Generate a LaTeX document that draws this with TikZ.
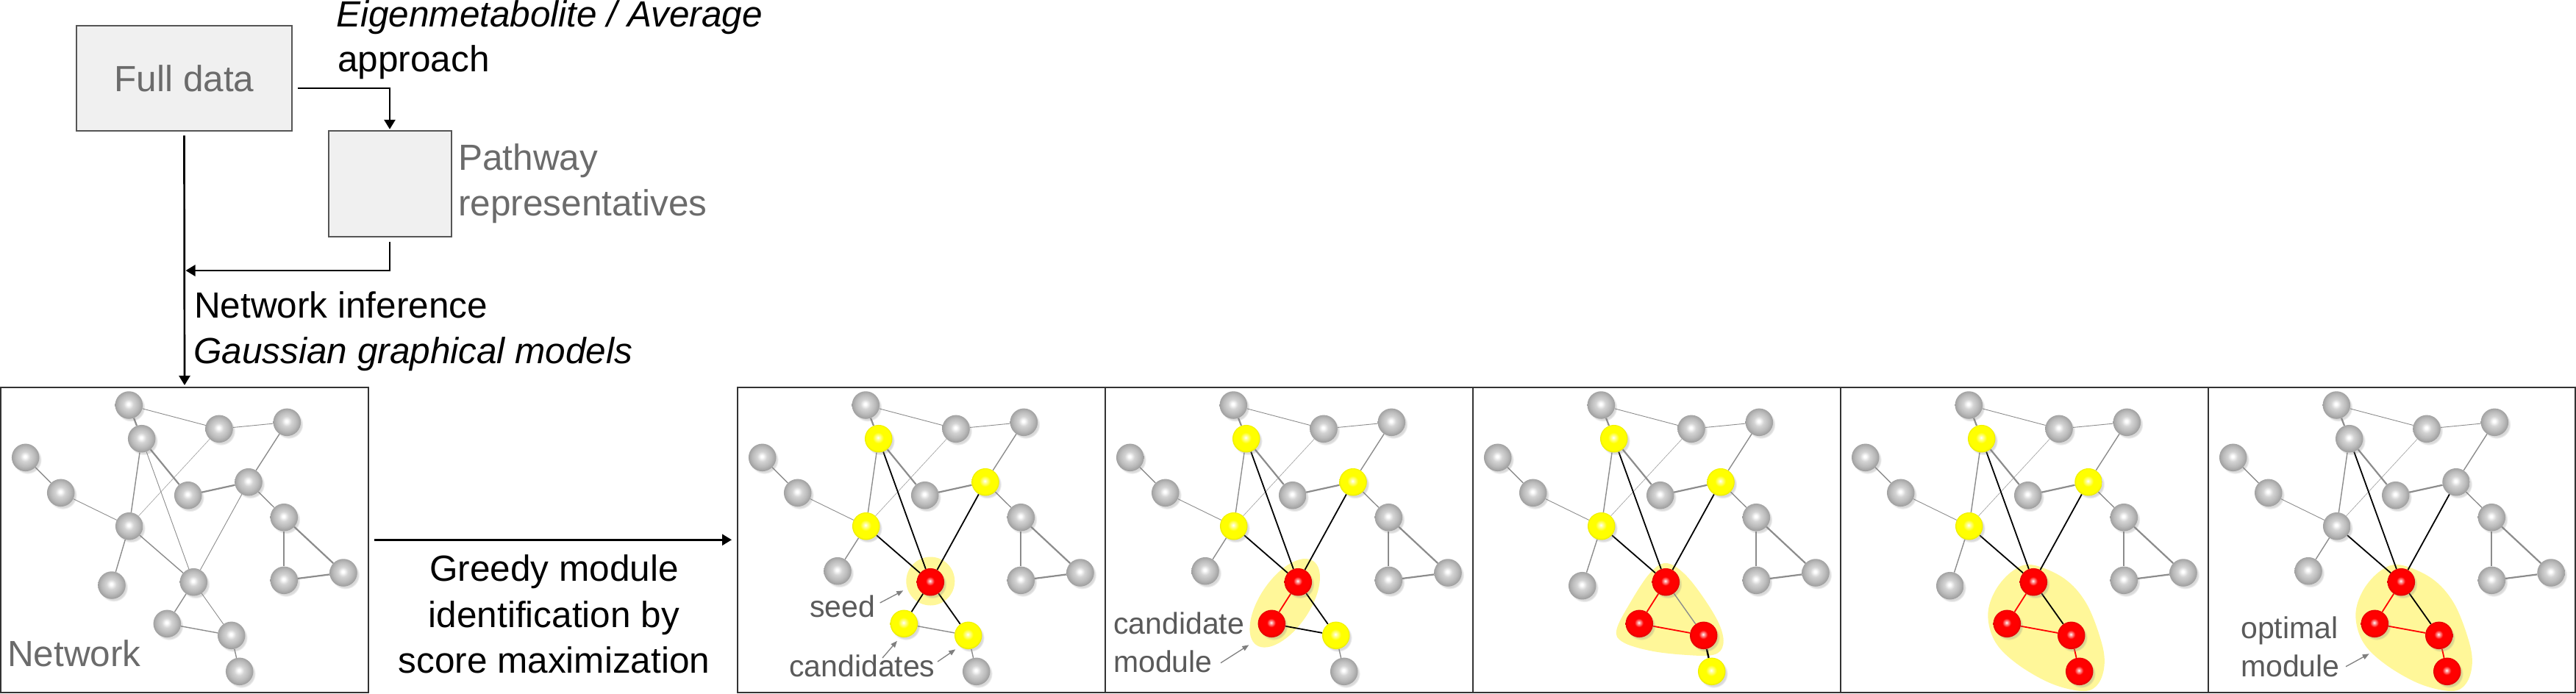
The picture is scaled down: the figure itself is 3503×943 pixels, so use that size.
\documentclass[tikz,border=0pt]{standalone}
\usepackage{fontspec}
\setmainfont{Liberation Sans}
\usetikzlibrary{arrows.meta,shadows,calc}
\pgfdeclarelayer{blob}
\pgfdeclarelayer{edges}
\pgfsetlayers{blob,edges,main}

\definecolor{boxfill}{HTML}{F0F0F0}
\definecolor{boxline}{HTML}{555555}
\definecolor{txtgrey}{HTML}{6B6B6B}
\definecolor{lblgrey}{HTML}{5A5A5A}
\definecolor{edgegrey}{HTML}{8C8C8C}
\definecolor{hlyellow}{HTML}{FFF799}
\definecolor{arrgrey}{HTML}{7F7F7F}
\definecolor{framecol}{HTML}{333333}

\pgfdeclareradialshading{greyball}{\pgfqpoint{-1bp}{2bp}}{%
 color(0bp)=(white); color(2bp)=(white); color(9bp)=(black!17);
 color(18bp)=(black!27); color(24bp)=(black!36); color(27bp)=(black!42);
 color(50bp)=(black!42)}
\pgfdeclareradialshading{redball}{\pgfqpoint{-1bp}{2bp}}{%
 color(0bp)=(white); color(2bp)=(white!70!red); color(8bp)=(red);
 color(21bp)=(red); color(25bp)=(red!88!black); color(50bp)=(red!88!black)}
\pgfdeclareradialshading{yellowball}{\pgfqpoint{-1bp}{2bp}}{%
 color(0bp)=(white); color(3bp)=(white!65!yellow); color(10bp)=(yellow);
 color(22bp)=(yellow); color(25bp)=(yellow!92!black); color(50bp)=(yellow!92!black)}

\newcommand{\SetNodes}[7]{\tikzset{sB/.style={#1},sH/.style={#2},sI/.style={#3},sL/.style={#4},sO/.style={#5},sP/.style={#6},sQ/.style={#7}}}
\newcommand{\SetEdges}[7]{\tikzset{eBL/.style={#1},eHL/.style={#2},eIL/.style={#3},eLO/.style={#4},eLP/.style={#5},eOP/.style={#6},ePQ/.style={#7}}}

\newcommand{\NetPanel}[4]{%
\begin{scope}[shift={(#2,527)}]
\node[gnode] (#1A) at (174.3,24) {};
\node[sB] (#1B) at (191.7,69.7) {};
\node[gnode] (#1C) at (297,56.3) {};
\node[gnode] (#1D) at (389.3,47.3) {};
\node[gnode] (#1E) at (33.7,95.3) {};
\node[gnode] (#1F) at (81.7,143.3) {};
\node[gnode] (#1G) at (254.7,146.7) {};
\node[sH] (#1H) at (337,128.7) {};
\node[sI] (#1I) at (174.7,188.7) {};
\node[gnode] (#1J) at (385.3,176.7) {};
\node[gnode] (#1K) at (#3,#4) {};
\node[sL] (#1L) at (262.3,264.7) {};
\node[gnode] (#1M) at (385.3,262.3) {};
\node[gnode] (#1N) at (466,252) {};
\node[sO] (#1O) at (226.3,321.3) {};
\node[sP] (#1P) at (313.7,337.3) {};
\node[sQ] (#1Q) at (324.7,386.3) {};
\begin{pgfonlayer}{edges}
\draw[thickedge] (#1A) -- (#1B);
\draw[thinedge] (#1A) -- (#1C);
\draw[thinedge] (#1C) -- (#1D);
\draw[gedge] (#1D) -- (#1H);
\draw[gedge] (#1E) -- (#1F);
\draw[thinedge] (#1F) -- (#1I);
\draw[gedge] (#1B) -- (#1I);
\draw[hairedge] (#1C) -- (#1I);
\draw[thickedge] (#1B) -- (#1G);
\draw[thickedge] (#1G) -- (#1H);
\draw[gedge] (#1H) -- (#1J);
\draw[thickedge] (#1J) -- (#1M);
\draw[thickedge] (#1J) -- (#1N);
\draw[thickedge] (#1M) -- (#1N);
\draw[gedge] (#1I) -- (#1K);
\draw[eBL] (#1B) -- (#1L);
\draw[eHL] (#1H) -- (#1L);
\draw[eIL] (#1I) -- (#1L);
\draw[eLO] (#1L) -- (#1O);
\draw[eLP] (#1L) -- (#1P);
\draw[eOP] (#1O) -- (#1P);
\draw[ePQ] (#1P) -- (#1Q);
\end{pgfonlayer}
\end{scope}}

\begin{document}
\begin{tikzpicture}[x=1pt,y=-1pt,
  netball/.style={circle, minimum size=37.5pt, inner sep=0pt, shade,
    circular drop shadow={shadow xshift=2.5pt, shadow yshift=-3pt, opacity=.3, shadow scale=1.04}},
  gnode/.style={netball, shading=greyball},
  ynode/.style={netball, shading=yellowball},
  rnode/.style={netball, shading=redball},
  gedge/.style={draw=edgegrey, line width=1.4pt},
  thinedge/.style={draw=edgegrey, line width=0.9pt},
  hairedge/.style={draw=edgegrey!85, line width=0.6pt},
  thickedge/.style={draw=edgegrey, line width=2.2pt},
  bedge/.style={draw=black, line width=1.8pt},
  bthick/.style={draw=black, line width=2.4pt},
  redge/.style={draw=red, line width=1.8pt},
  hl/.style={fill=hlyellow},
  panelframe/.style={draw=framecol, line width=2pt, rectangle, inner sep=0pt, minimum height=414.5pt},
  databox/.style={draw=boxline, fill=boxfill, line width=2pt, rectangle, inner sep=0pt},
  bigtxt/.style={font=\fontsize{49.5}{60}\selectfont, inner sep=0pt},
  lbl/.style={font=\fontsize{41}{50}\selectfont, text=lblgrey, inner sep=0pt},
  conn/.style={line width=2.7pt, -{Triangle[length=13pt,width=15pt]}},
  smallarr/.style={draw=arrgrey, line width=1.3pt, -{Triangle[length=9pt,width=7pt]}}
]
\useasboundingbox (0,0) rectangle (3503,943);

% ---------- top: data boxes ----------
\node[databox, minimum width=293pt, minimum height=143.6pt, bigtxt, text=txtgrey] (fd) at (250.5,106.5) {Full data};
\node[databox, minimum width=167pt, minimum height=143.4pt] (pw) at (530,250) {};
\node[bigtxt, text=txtgrey, anchor=base west] (pwt1) at (623,231.7) {Pathway};
\node[bigtxt, text=txtgrey, anchor=base west] (pwt2) at (623,293.3) {representatives};
\node[bigtxt, anchor=base west] (eig1) at (457,36) {\itshape Eigenmetabolite / Average};
\node[bigtxt, anchor=base west] (eig2) at (459,97.5) {approach};
\node[bigtxt, anchor=base west] (ni1) at (264,432) {Network inference};
\node[bigtxt, anchor=base west] (ni2) at (263,494) {\itshape Gaussian graphical models};

% ---------- frames ----------
\node[panelframe, minimum width=500pt] (netbox) at (251,734.25) {};
\node[panelframe, minimum width=500pt] (p1) at (1253,734.25) {};
\node[panelframe, minimum width=500pt] (p2) at (1753,734.25) {};
\node[panelframe, minimum width=500pt] (p3) at (2253,734.25) {};
\node[panelframe, minimum width=500pt] (p4) at (2753,734.25) {};
\node[panelframe, minimum width=499pt] (p5) at (3252.5,734.25) {};

% ---------- main connectors ----------
\coordinate (join) at (252.5,368);
\draw[conn, shorten >=1.5pt] ([xshift=7pt,yshift=-13.5pt]fd.east) -| (pw.north);
\draw[conn] ([yshift=-6pt]pw.south) |- (join);
\draw[conn, shorten >=2pt] ([yshift=-5pt]fd.south) -- (netbox.north);
\draw[conn] ([xshift=7pt]netbox.east) -- ([xshift=-7pt]p1.west);

\node[bigtxt, anchor=base] (gr1) at (753.5,790.7) {Greedy module};
\node[bigtxt, anchor=base] (gr2) at (753.5,853) {identification by};
\node[bigtxt, anchor=base] (gr3) at (753.5,915) {score maximization};
\node[bigtxt, text=txtgrey, anchor=base west] (netlbl) at (10,906) {Network};

% ---------- highlight blobs ----------
\begin{pgfonlayer}{blob}
\fill[hl] (1265.3,790.5) circle (33pt);
\fill[hl, shift={(1747.2,820.3)}, rotate=56] (0,0) ellipse (69pt and 34pt);
\begin{scope}[shift={(2003,527)}]
\fill[hl] plot[smooth cycle, tension=0.6] coordinates {(262.3,239) (287,253) (313.7,286.3) (335.3,323) (340.3,349.7) (327,363.7) (287,363.7) (240.3,358) (203.7,346.3) (195.3,329.7) (213.7,293) (240.3,253)};
\end{scope}
\begin{scope}[shift={(2503,527)}]
\fill[hl] plot[smooth cycle, tension=0.6] coordinates {(260.3,241.3) (303.7,259.7) (333.7,293) (353.7,343) (358.7,376.3) (350.3,403) (330.3,413) (287,403) (240.3,376.3) (210.3,346.3) (200.3,309.7) (210.3,276.3) (233.7,249.7)};
\end{scope}
\begin{scope}[shift={(3003,527)}]
\fill[hl] plot[smooth cycle, tension=0.6] coordinates {(260.3,241.3) (303.7,259.7) (333.7,293) (353.7,343) (358.7,376.3) (350.3,403) (330.3,413) (287,403) (240.3,376.3) (210.3,346.3) (200.3,309.7) (210.3,276.3) (233.7,249.7)};
\end{scope}
\end{pgfonlayer}

% ---------- networks ----------
% left: inferred network
\SetNodes{gnode}{gnode}{gnode}{gnode}{gnode}{gnode}{gnode}
\SetEdges{thinedge}{thinedge}{gedge}{gedge}{thinedge}{gedge}{gedge}
\NetPanel{n}{1}{151}{269}
% panel 1: seed
\SetNodes{ynode}{ynode}{ynode}{rnode}{ynode}{ynode}{gnode}
\SetEdges{bedge}{bedge}{bedge}{bedge}{bedge}{gedge}{gedge}
\NetPanel{a}{1003}{136}{249.7}
% panel 2: candidate module
\SetNodes{ynode}{ynode}{ynode}{rnode}{rnode}{ynode}{gnode}
\SetEdges{bedge}{bedge}{bedge}{redge}{bedge}{bedge}{gedge}
\NetPanel{b}{1503}{136}{249.7}
% panel 3
\SetNodes{ynode}{ynode}{ynode}{rnode}{rnode}{rnode}{ynode}
\SetEdges{bedge}{bedge}{bedge}{redge}{gedge}{redge}{bthick}
\NetPanel{c}{2003}{148.7}{269.7}
% panel 4
\SetNodes{ynode}{ynode}{ynode}{rnode}{rnode}{rnode}{rnode}
\SetEdges{bedge}{bedge}{bedge}{redge}{bedge}{redge}{redge}
\NetPanel{d}{2503}{148.7}{269.7}
% panel 5: optimal module
\SetNodes{gnode}{gnode}{gnode}{rnode}{rnode}{rnode}{rnode}
\SetEdges{bedge}{bedge}{bedge}{redge}{bedge}{redge}{redge}
\NetPanel{e}{3003}{136}{249.7}

% ---------- small labels ----------
\node[lbl, anchor=base west] (seedlbl) at (1101,839) {seed};
\node[lbl, anchor=base west] (candlbl) at (1073,920) {candidates};
\node[lbl, anchor=base west] (cm1) at (1514,862) {candidate};
\node[lbl, anchor=base west] (cm2) at (1514,914) {module};
\node[lbl, anchor=base west] (om1) at (3047,868) {optimal};
\node[lbl, anchor=base west] (om2) at (3047,920) {module};

\coordinate (seedtail) at (1196.7,820);  \coordinate (seedtip) at (1228.3,803.3);
\coordinate (ca1tail) at (1200,895);     \coordinate (ca1tip) at (1220,871.7);
\coordinate (ca2tail) at (1275,900);     \coordinate (ca2tip) at (1299.3,883.3);
\coordinate (cmtail) at (1660,901.7);    \coordinate (cmtip) at (1698.3,877.3);
\coordinate (omtail) at (3190,906.7);    \coordinate (omtip) at (3221.7,889.3);
\draw[smallarr] (seedtail) -- (seedtip);
\draw[smallarr] (ca1tail) -- (ca1tip);
\draw[smallarr] (ca2tail) -- (ca2tip);
\draw[smallarr] (cmtail) -- (cmtip);
\draw[smallarr] (omtail) -- (omtip);
\end{tikzpicture}
\end{document}
